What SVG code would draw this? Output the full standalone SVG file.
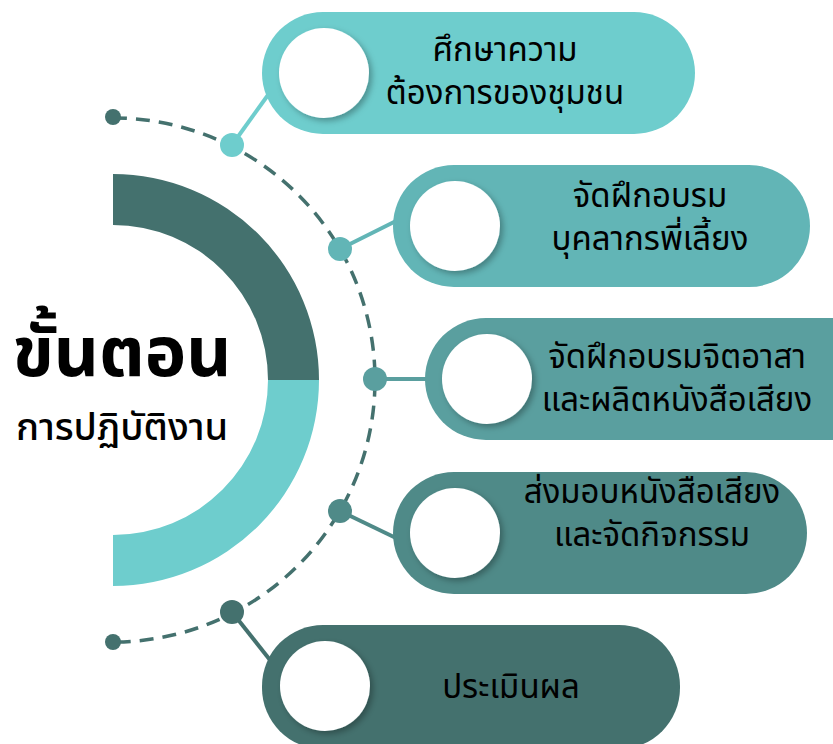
<svg xmlns="http://www.w3.org/2000/svg" width="833" height="744" viewBox="0 0 833 744">
<defs>
<filter id="sh" x="-30%" y="-30%" width="160%" height="160%">
<feDropShadow dx="3" dy="3" stdDeviation="3" flood-color="#000" flood-opacity="0.3"/>
</filter>
<style>
.t{font-family:"Noto Sans Thai","Noto Sans","Liberation Sans",sans-serif;fill:#000;text-anchor:middle}
.lbl{font-size:33px}
.hole{fill:#fff;filter:url(#sh)}
.con{stroke-width:4;fill:none}
</style>
</defs>
<rect width="833" height="744" fill="#fff"/>
<g id="ring">
<path d="M113 174 A206 206 0 0 1 319 380 L268 380 A155 155 0 0 0 113 225 Z" fill="#44716e"/>
<path d="M319 380 A206 206 0 0 1 113 586 L113 535 A155 155 0 0 0 268 380 Z" fill="#6ecdcd"/>
</g>
<g id="title">
<text class="t" x="122" y="376" style="font-size:70px;font-weight:700">ขั้นตอน</text>
<text class="t" x="122" y="440" style="font-size:38px;font-weight:500">การปฏิบัติงาน</text>
</g>
<g id="connectors">
<path d="M113 118 A262 262 0 0 1 113 642" fill="none" stroke="#44716e" stroke-width="3.5" stroke-dasharray="14 9"/>
<circle cx="113" cy="117" r="8" fill="#44716e"/>
<circle cx="113" cy="642" r="8" fill="#44716e"/>
<line class="con" x1="232" y1="145" x2="268" y2="95" stroke="#6ecdcd"/>
<circle cx="232" cy="145" r="12" fill="#6ecdcd"/>
<line class="con" x1="340" y1="249" x2="396" y2="221" stroke="#62b5b6"/>
<circle cx="340" cy="249" r="12" fill="#62b5b6"/>
<line class="con" x1="375" y1="379" x2="428" y2="379" stroke="#5a9f9f"/>
<circle cx="375" cy="379" r="12" fill="#5a9f9f"/>
<line class="con" x1="340" y1="511" x2="396" y2="538" stroke="#4f8a88"/>
<circle cx="340" cy="511" r="12" fill="#4f8a88"/>
<line class="con" x1="232" y1="612" x2="270" y2="660" stroke="#44716e"/>
<circle cx="232" cy="612" r="12" fill="#44716e"/>
</g>
<g id="step1">
<rect x="262" y="12" width="433" height="122" rx="61" fill="#6ecdcd"/>
<circle class="hole" cx="324" cy="73" r="45"/>
<text class="t lbl" x="505" y="61">ศึกษาความ</text>
<text class="t lbl" x="505" y="104">ต้องการของชุมชน</text>
</g>
<g id="step2">
<rect x="393" y="165" width="417" height="122" rx="61" fill="#62b5b6"/>
<circle class="hole" cx="455" cy="226" r="45"/>
<text class="t lbl" x="650" y="207">จัดฝึกอบรม</text>
<text class="t lbl" x="650" y="250">บุคลากรพี่เลี้ยง</text>
</g>
<g id="step3">
<rect x="425" y="318" width="470" height="122" rx="61" fill="#5a9f9f"/>
<circle class="hole" cx="487" cy="379" r="45"/>
<text class="t lbl" x="677" y="368">จัดฝึกอบรมจิตอาสา</text>
<text class="t lbl" x="677" y="411">และผลิตหนังสือเสียง</text>
</g>
<g id="step4">
<rect x="393" y="472" width="414" height="122" rx="61" fill="#4f8a88"/>
<circle class="hole" cx="455" cy="533" r="45"/>
<text class="t lbl" x="652" y="503">ส่งมอบหนังสือเสียง</text>
<text class="t lbl" x="652" y="546">และจัดกิจกรรม</text>
</g>
<g id="step5">
<rect x="262" y="625" width="418" height="124" rx="61" fill="#44716e"/>
<circle class="hole" cx="325" cy="686" r="45"/>
<text class="t lbl" x="511" y="698">ประเมินผล</text>
</g>
</svg>
